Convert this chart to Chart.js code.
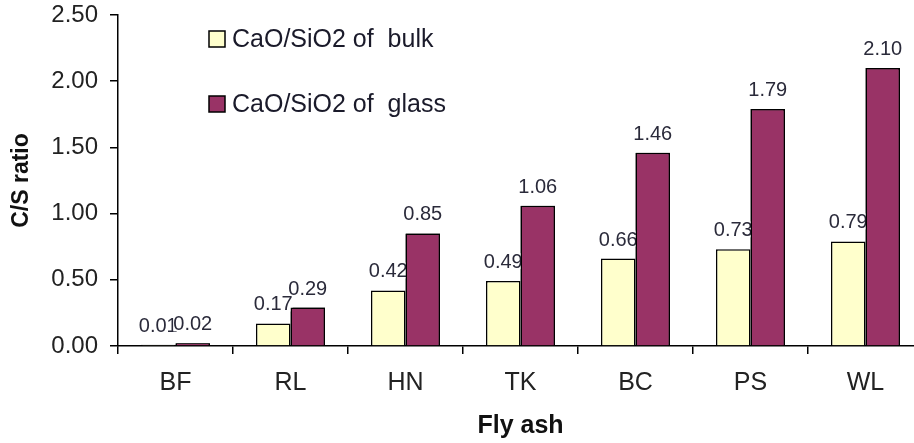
<!DOCTYPE html>
<html>
<head>
<meta charset="utf-8">
<script src="https://cdn.jsdelivr.net/npm/chart.js@4/dist/chart.umd.min.js"></script>
<style>
html,body{margin:0;padding:0;background:#fff;overflow:hidden;}
#wrap{width:923px;height:443px;}
</style>
</head>
<body>
<div id="wrap"><canvas id="c" width="923" height="443"></canvas></div>
<script>
const categories = ["BF","RL","HN","TK","BC","PS","WL"];
const bulkValues = [0.01,0.17,0.42,0.49,0.66,0.73,0.79];
const glassValues = [0.02,0.29,0.85,1.06,1.46,1.79,2.10];
const seriesNames = ["CaO/SiO2 of  bulk","CaO/SiO2 of  glass"];
const yTicks = [0,0.5,1.0,1.5,2.0,2.5];

const FONT = "'Liberation Sans', Arial, sans-serif";

function drawLabels(chart, i){
  const ctx = chart.ctx;
  const ds = chart.data.datasets[i];
  const meta = chart.getDatasetMeta(i);
  ctx.save();
  ctx.font = "20px " + FONT;
  ctx.textAlign = "center";
  ctx.textBaseline = "alphabetic";
  meta.data.forEach((bar,j)=>{
    const t = ds.data[j].toFixed(2);
    const w = ctx.measureText(t).width;
    const by = bar.y - 13;
    ctx.fillStyle = "#fff";
    ctx.fillRect(bar.x - w/2, by - 15, w, 16);
    ctx.fillStyle = "#2a2a3a";
    ctx.fillText(t, bar.x, by);
  });
  ctx.restore();
}

const valueLabels = {
  id:'valueLabels',
  afterDatasetsDraw(chart){
    drawLabels(chart, 0);
    const ctx = chart.ctx;
    const area = chart.chartArea;
    ctx.save();
    chart.getDatasetMeta(1).data.forEach(el=>el.draw(ctx, area));
    ctx.restore();
    drawLabels(chart, 1);
  }
};

const insideLegend = {
  id:'insideLegend',
  afterDraw(chart){
    const ctx = chart.ctx;
    const ca = chart.chartArea;
    ctx.save();
    ctx.font = "25px " + FONT;
    ctx.textBaseline = "alphabetic";
    ctx.textAlign = "left";
    chart.data.datasets.forEach((ds,i)=>{
      const x = ca.left + 91;
      const yb = ca.top + 32 + i*65;
      ctx.fillStyle = ds.backgroundColor;
      ctx.fillRect(x, yb-16, 16, 16);
      ctx.strokeStyle = "#000";
      ctx.lineWidth = 1.5;
      ctx.strokeRect(x, yb-16, 16, 16);
      ctx.fillStyle = "#1a1a2a";
      ctx.fillText(ds.label, x + 23, yb);
    });
    ctx.restore();
  }
};

new Chart(document.getElementById('c'), {
  type:'bar',
  data:{
    labels:categories,
    datasets:[
      {label:seriesNames[0], data:bulkValues, backgroundColor:'#FFFFCC', borderColor:'#000', borderWidth:1.5, categoryPercentage:0.6, barPercentage:1.0},
      {label:seriesNames[1], data:glassValues, backgroundColor:'#993366', borderColor:'#000', borderWidth:1.5, categoryPercentage:0.6, barPercentage:1.0}
    ]
  },
  options:{
    responsive:false,
    animation:false,
    layout:{padding:{top:15,right:0,left:0,bottom:0}},
    plugins:{legend:{display:false}, tooltip:{enabled:false}},
    scales:{
      x:{
        grid:{display:true, drawOnChartArea:false, color:'#000', lineWidth:1.5, tickLength:8, offset:true},
        border:{display:true, color:'#000', width:1.5},
        ticks:{font:{family:FONT,size:25}, color:'#222', padding:14},
        title:{display:true, text:'Fly ash', font:{family:FONT,size:25,weight:'bold'}, color:'#111', padding:{top:4,bottom:2}},
        afterFit(s){ s.height = 97; s.paddingLeft = 0; s.paddingRight = 0; }
      },
      y:{
        min:0, max:2.5,
        afterBuildTicks(s){ s.ticks = yTicks.map(v=>({value:v})); },
        grid:{display:true, drawOnChartArea:false, color:'#000', lineWidth:1.5, tickLength:8},
        border:{display:true, color:'#000', width:1.5},
        ticks:{font:{family:FONT,size:24}, color:'#222', padding:12, callback:(v)=>Number(v).toFixed(2)},
        title:{display:true, text:'C/S ratio', font:{family:FONT,size:23,weight:'bold'}, color:'#111', padding:{top:8,bottom:4}},
        afterFit(s){ s.width = 118; s.paddingTop = 0; s.paddingBottom = 0; }
      }
    }
  },
  plugins:[valueLabels, insideLegend]
});
</script>
</body>
</html>
